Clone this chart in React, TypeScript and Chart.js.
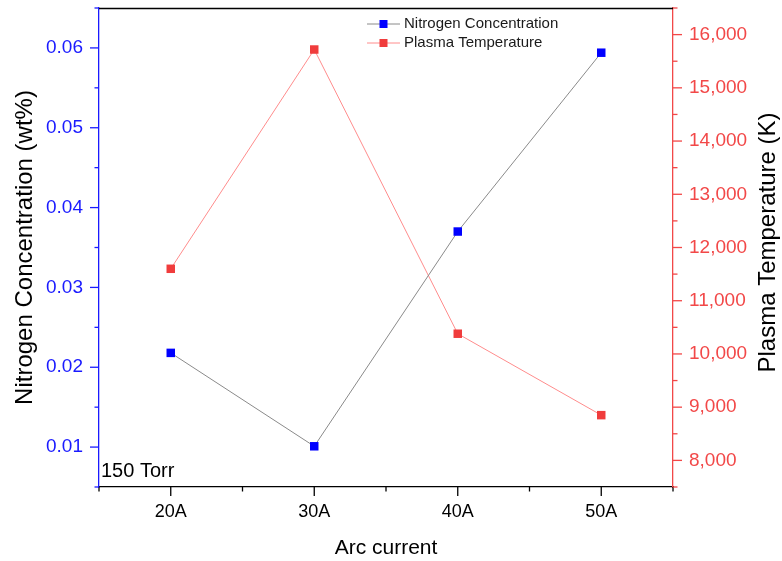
import React, { useEffect, useRef } from "react";
import { Chart, registerables } from "chart.js";

Chart.register(...registerables);

// ---- data ----
const currents = [20, 30, 40, 50]; // Arc current (A)
const nitrogenConc = [0.0218, 0.0101, 0.037, 0.0594]; // wt%
const plasmaTemp = [11600, 15720, 10380, 8850]; // K
const xTickUnit = "A";
const seriesNames = ["Nitrogen Concentration", "Plasma Temperature"];
const xTitle = "Arc current";
const yTitle = "Nitrogen Concentration (wt%)";
const y1Title = "Plasma Temperature (K)";
const annotationText = "150 Torr";

const FONT = "'Liberation Sans', Arial, sans-serif";
const BLUE = "#1a1aff";
const RED = "#f24848";

const tickMarks = {
  id: "tickMarks",
  afterDraw(chart: any) {
    const ctx = chart.ctx;
    const ca = chart.chartArea;
    ctx.save();
    // top frame line
    ctx.strokeStyle = "#000";
    ctx.lineWidth = 1.3;
    ctx.beginPath();
    ctx.moveTo(ca.left, ca.top + 0.5);
    ctx.lineTo(ca.right, ca.top + 0.5);
    ctx.stroke();
    const conf: any = { x: "#000", y: BLUE, y1: RED };
    for (const id of ["x", "y", "y1"]) {
      const s = chart.scales[id];
      ctx.strokeStyle = conf[id];
      ctx.lineWidth = 1.3;
      s.ticks.forEach((t: any) => {
        const lbl = t.label;
        const isMajor = lbl !== "" && lbl !== undefined;
        const len = isMajor ? 9 : 4.5;
        const p = s.getPixelForValue(t.value);
        ctx.beginPath();
        if (id === "x") {
          ctx.moveTo(p, ca.bottom);
          ctx.lineTo(p, ca.bottom + len);
        } else if (id === "y") {
          ctx.moveTo(ca.left, p);
          ctx.lineTo(ca.left - len, p);
        } else {
          ctx.moveTo(ca.right, p);
          ctx.lineTo(ca.right + len, p);
        }
        ctx.stroke();
      });
    }
    // right axis title (reads bottom to top)
    ctx.save();
    ctx.translate(chart.width - 14, (ca.top + ca.bottom) / 2 - 5);
    ctx.rotate(-Math.PI / 2);
    ctx.fillStyle = "#000";
    ctx.font = `24px ${FONT}`;
    ctx.textAlign = "center";
    ctx.textBaseline = "middle";
    ctx.fillText(y1Title, 0, 0);
    ctx.restore();
    // annotation
    ctx.fillStyle = "#000";
    ctx.font = `20px ${FONT}`;
    ctx.textAlign = "left";
    ctx.textBaseline = "alphabetic";
    ctx.fillText(annotationText, ca.left + 2, ca.bottom - 10);
    // legend
    chart.data.datasets.forEach((ds: any, i: number) => {
      const y = 24 + i * 19;
      const x0 = ca.left + 268;
      ctx.strokeStyle = ds.borderColor;
      ctx.lineWidth = 1;
      ctx.beginPath();
      ctx.moveTo(x0, y);
      ctx.lineTo(x0 + 33, y);
      ctx.stroke();
      ctx.fillStyle = ds.pointBackgroundColor;
      ctx.fillRect(x0 + 12.5, y - 4, 8, 8);
      ctx.fillStyle = "#1a1a1a";
      ctx.font = `15px ${FONT}`;
      ctx.textBaseline = "middle";
      ctx.fillText(ds.label, x0 + 37, y);
    });
    ctx.restore();
  },
};

function App() {
  const ref = useRef<HTMLCanvasElement>(null);
  useEffect(() => {
    if (!ref.current) return;
    const chart = new Chart(ref.current, {
      type: "line",
      data: {
        datasets: [
          {
            label: seriesNames[0],
            data: currents.map((c, i) => ({ x: c, y: nitrogenConc[i] })),
            yAxisID: "y",
            borderColor: "#8a8a8a",
            borderWidth: 1,
            pointStyle: "rect",
            pointRadius: 6,
            pointBorderWidth: 0,
            pointBackgroundColor: "#0000ff",
            pointBorderColor: "#0000ff",
          },
          {
            label: seriesNames[1],
            data: currents.map((c, i) => ({ x: c, y: plasmaTemp[i] })),
            yAxisID: "y1",
            borderColor: "#ff8c8c",
            borderWidth: 1,
            pointStyle: "rect",
            pointRadius: 6,
            pointBorderWidth: 0,
            pointBackgroundColor: "#f03c3c",
            pointBorderColor: "#f03c3c",
          },
        ],
      },
      options: {
        responsive: false,
        animation: false,
        layout: { padding: { top: 8, left: 0, right: 0, bottom: 0 } },
        plugins: { legend: { display: false }, tooltip: { enabled: false } },
        scales: {
          x: {
            type: "linear",
            min: 15,
            max: 55,
            afterFit: (s: any) => {
              s.height = 74;
              s.paddingLeft = 0;
              s.paddingRight = 0;
            },
            ticks: {
              stepSize: 5,
              autoSkip: false,
              maxRotation: 0,
              padding: 14,
              color: "#000",
              font: { family: FONT, size: 18 },
              callback: (v: any) => (Number(v) % 10 === 0 ? `${v}${xTickUnit}` : ""),
            },
            grid: { drawOnChartArea: false, drawTicks: false },
            border: { color: "#000", width: 1.3 },
            title: {
              display: true,
              text: xTitle,
              color: "#000",
              font: { family: FONT, size: 21 },
              padding: { top: 0, bottom: 0 },
            },
          },
          y: {
            type: "linear",
            position: "left",
            min: 0.005,
            max: 0.065,
            afterFit: (s: any) => {
              s.width = 99;
              s.paddingTop = 0;
              s.paddingBottom = 0;
            },
            ticks: {
              stepSize: 0.005,
              autoSkip: false,
              padding: 16,
              color: BLUE,
              font: { family: FONT, size: 19 },
              callback: (v: any) => {
                const n = Number(v) * 100;
                return Math.abs(n - Math.round(n)) < 1e-6 ? Number(v).toFixed(2) : "";
              },
            },
            grid: { drawOnChartArea: false, drawTicks: false },
            border: { color: BLUE, width: 1.3 },
            title: {
              display: true,
              text: yTitle,
              color: "#000",
              font: { family: FONT, size: 24 },
              padding: { top: 11, bottom: 0 },
            },
          },
          y1: {
            type: "linear",
            position: "right",
            min: 7500,
            max: 16500,
            afterFit: (s: any) => {
              s.width = 109;
              s.paddingTop = 0;
              s.paddingBottom = 0;
            },
            ticks: {
              stepSize: 500,
              autoSkip: false,
              padding: 16,
              color: RED,
              font: { family: FONT, size: 19 },
              callback: (v: any) =>
                Number(v) % 1000 === 0 ? Number(v).toLocaleString("en-US") : "",
            },
            grid: { drawOnChartArea: false, drawTicks: false },
            border: { color: RED, width: 1.3 },
            title: { display: false },
          },
        },
      },
      plugins: [tickMarks],
    } as any);
    return () => chart.destroy();
  }, []);
  return (
    <div style={{ position: "fixed", left: 0, top: 0, width: 782, height: 561, background: "#fff" }}>
      <canvas ref={ref} width={782} height={561} />
    </div>
  );
}

export default App;
